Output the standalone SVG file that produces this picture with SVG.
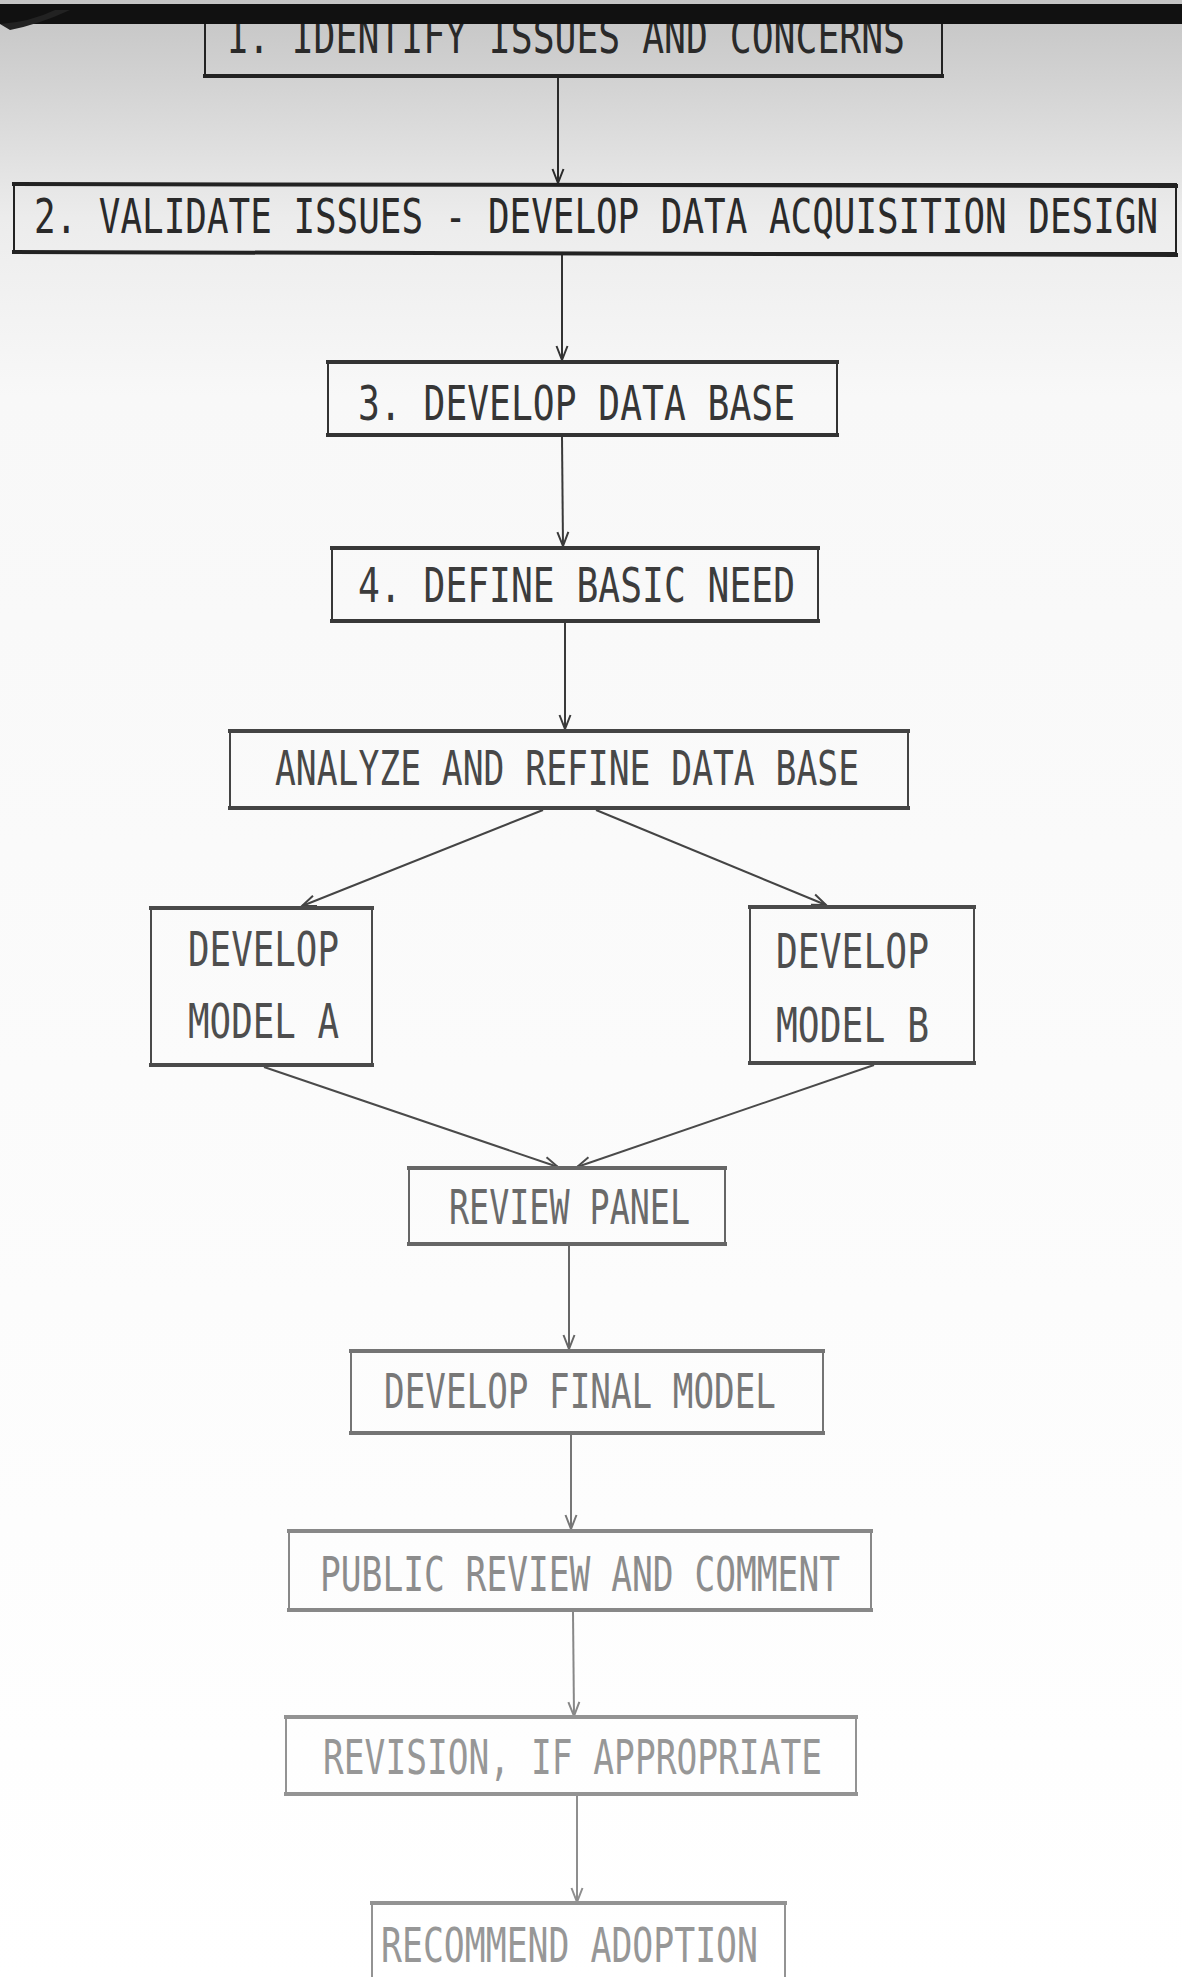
<svg xmlns="http://www.w3.org/2000/svg" width="1182" height="1977" viewBox="0 0 1182 1977">
  <defs>
    <linearGradient id="paper" x1="0" y1="0" x2="0" y2="1">
      <stop offset="0" stop-color="#c4c4c4"/>
      <stop offset="0.04" stop-color="#d2d2d2"/>
      <stop offset="0.11" stop-color="#ececec"/>
      <stop offset="0.2" stop-color="#f8f8f8"/>
      <stop offset="1" stop-color="#ffffff"/>
    </linearGradient>
    <marker id="head" viewBox="-16 -8 18 16" refX="0" refY="0" markerWidth="18" markerHeight="16" markerUnits="userSpaceOnUse" orient="auto">
      <path d="M -14 -5.5 L 0 0 L -14 5.5" fill="none" stroke="context-stroke" stroke-width="2"/>
    </marker>
  </defs>
  <style>
    .box { fill: none; stroke-width: 2; }
    .edge { stroke-width: 4; }
    .lbl { font-family: "DejaVu Sans Mono", "Liberation Mono", monospace; font-size: 48px; }
    .wire { fill: none; stroke-width: 2; marker-end: url(#head); }
  </style>

  <!-- paper -->
  <rect x="0" y="0" width="1182" height="1977" fill="url(#paper)"/>

  <!-- connectors -->
  <g id="connectors">
    <line class="wire" stroke="#2a2a2a" x1="558" y1="77" x2="558" y2="183"/>
    <line class="wire" stroke="#333" x1="562" y1="255" x2="562" y2="360"/>
    <line class="wire" stroke="#3a3a3a" x1="562" y1="437" x2="563" y2="546"/>
    <line class="wire" stroke="#3a3a3a" x1="565" y1="623" x2="565" y2="729"/>
    <line class="wire" stroke="#444" x1="543" y1="810" x2="302" y2="906"/>
    <line class="wire" stroke="#444" x1="596" y1="810" x2="826" y2="905"/>
    <line class="wire" stroke="#4a4a4a" x1="264" y1="1067" x2="558" y2="1167"/>
    <line class="wire" stroke="#4a4a4a" x1="874" y1="1065" x2="577" y2="1167"/>
    <line class="wire" stroke="#666" x1="569" y1="1246" x2="569" y2="1349"/>
    <line class="wire" stroke="#777" x1="571" y1="1435" x2="571" y2="1529"/>
    <line class="wire" stroke="#888" x1="573" y1="1612" x2="574" y2="1716"/>
    <line class="wire" stroke="#8e8e8e" x1="577" y1="1796" x2="577" y2="1902"/>
  </g>

  <!-- 1. identify issues -->
  <g id="n1">
    <rect class="box" stroke="#222" x="205" y="8" width="737" height="68"/>
    <line class="edge" stroke="#222" x1="203" y1="76" x2="944" y2="76"/>
    <text class="lbl" fill="#2a2a2a" x="226" y="53" textLength="679" lengthAdjust="spacingAndGlyphs">1.  IDENTIFY ISSUES AND CONCERNS</text>
  </g>

  <!-- dark edge across the top of the sheet -->
  <g id="topband">
    <rect x="0" y="4" width="1182" height="20" fill="#111"/>
    <path d="M 0 24 Q 30 22 55 10 L 70 10 Q 40 24 10 30 Z" fill="#222"/>
  </g>

  <!-- 2. validate issues -->
  <g id="n2">
    <rect class="box" stroke="#222" x="14" y="184" width="1162" height="69"/>
    <line class="edge" stroke="#222" x1="12" y1="184" x2="1178" y2="186"/>
    <line class="edge" stroke="#222" x1="12" y1="252" x2="1178" y2="255"/>
    <text class="lbl" fill="#2a2a2a" x="34" y="233" font-size="46" textLength="1124" lengthAdjust="spacingAndGlyphs">2.  VALIDATE ISSUES - DEVELOP DATA ACQUISITION DESIGN</text>
  </g>

  <!-- 3. develop data base -->
  <g id="n3">
    <rect class="box" stroke="#333" x="328" y="362" width="509" height="73"/>
    <line class="edge" stroke="#333" x1="326" y1="362" x2="839" y2="362"/>
    <line class="edge" stroke="#333" x1="326" y1="435" x2="839" y2="435"/>
    <text class="lbl" fill="#363636" x="358" y="420" textLength="437" lengthAdjust="spacingAndGlyphs">3.  DEVELOP DATA BASE</text>
  </g>

  <!-- 4. define basic need -->
  <g id="n4">
    <rect class="box" stroke="#383838" x="332" y="548" width="486" height="73"/>
    <line class="edge" stroke="#383838" x1="330" y1="548" x2="820" y2="548"/>
    <line class="edge" stroke="#383838" x1="330" y1="621" x2="820" y2="621"/>
    <text class="lbl" fill="#3c3c3c" x="358" y="602" textLength="437" lengthAdjust="spacingAndGlyphs">4.  DEFINE BASIC NEED</text>
  </g>

  <!-- analyze and refine -->
  <g id="n5">
    <rect class="box" stroke="#444" x="230" y="731" width="678" height="77"/>
    <line class="edge" stroke="#444" x1="228" y1="731" x2="910" y2="731"/>
    <line class="edge" stroke="#444" x1="228" y1="808" x2="910" y2="808"/>
    <text class="lbl" fill="#484848" x="275" y="785" textLength="584" lengthAdjust="spacingAndGlyphs">ANALYZE AND REFINE DATA BASE</text>
  </g>

  <!-- model A -->
  <g id="modelA">
    <rect class="box" stroke="#4a4a4a" x="151" y="908" width="221" height="157"/>
    <line class="edge" stroke="#4a4a4a" x1="149" y1="908" x2="374" y2="908"/>
    <line class="edge" stroke="#4a4a4a" x1="149" y1="1065" x2="374" y2="1065"/>
    <text class="lbl" fill="#4e4e4e" x="188" y="966" textLength="151" lengthAdjust="spacingAndGlyphs">DEVELOP</text>
    <text class="lbl" fill="#4e4e4e" x="188" y="1038" textLength="151" lengthAdjust="spacingAndGlyphs">MODEL A</text>
  </g>

  <!-- model B -->
  <g id="modelB">
    <rect class="box" stroke="#4a4a4a" x="750" y="907" width="224" height="156"/>
    <line class="edge" stroke="#4a4a4a" x1="748" y1="907" x2="976" y2="907"/>
    <line class="edge" stroke="#4a4a4a" x1="748" y1="1063" x2="976" y2="1063"/>
    <text class="lbl" fill="#4e4e4e" x="776" y="968" textLength="153" lengthAdjust="spacingAndGlyphs">DEVELOP</text>
    <text class="lbl" fill="#4e4e4e" x="776" y="1042" textLength="153" lengthAdjust="spacingAndGlyphs">MODEL B</text>
  </g>

  <!-- review panel -->
  <g id="review">
    <rect class="box" stroke="#666" x="409" y="1168" width="316" height="76"/>
    <line class="edge" stroke="#666" x1="407" y1="1168" x2="727" y2="1168"/>
    <line class="edge" stroke="#666" x1="407" y1="1244" x2="727" y2="1244"/>
    <text class="lbl" fill="#6a6a6a" x="449" y="1224" textLength="241" lengthAdjust="spacingAndGlyphs">REVIEW PANEL</text>
  </g>

  <!-- final model -->
  <g id="final">
    <rect class="box" stroke="#747474" x="351" y="1351" width="472" height="82"/>
    <line class="edge" stroke="#747474" x1="349" y1="1351" x2="825" y2="1351"/>
    <line class="edge" stroke="#747474" x1="349" y1="1433" x2="825" y2="1433"/>
    <text class="lbl" fill="#787878" x="384" y="1408" textLength="392" lengthAdjust="spacingAndGlyphs">DEVELOP FINAL MODEL</text>
  </g>

  <!-- public review -->
  <g id="public">
    <rect class="box" stroke="#888" x="289" y="1531" width="582" height="79"/>
    <line class="edge" stroke="#888" x1="287" y1="1531" x2="873" y2="1531"/>
    <line class="edge" stroke="#888" x1="287" y1="1610" x2="873" y2="1610"/>
    <text class="lbl" fill="#8c8c8c" x="320" y="1591" textLength="520" lengthAdjust="spacingAndGlyphs">PUBLIC REVIEW AND COMMENT</text>
  </g>

  <!-- revision -->
  <g id="revision">
    <rect class="box" stroke="#939393" x="286" y="1717" width="570" height="77"/>
    <line class="edge" stroke="#939393" x1="284" y1="1717" x2="858" y2="1717"/>
    <line class="edge" stroke="#939393" x1="284" y1="1794" x2="858" y2="1794"/>
    <text class="lbl" fill="#979797" x="323" y="1774" textLength="499" lengthAdjust="spacingAndGlyphs">REVISION, IF APPROPRIATE</text>
  </g>

  <!-- recommend adoption -->
  <g id="recommend">
    <rect class="box" stroke="#939393" x="372" y="1903" width="413" height="90"/>
    <line class="edge" stroke="#939393" x1="370" y1="1903" x2="787" y2="1903"/>
    <text class="lbl" fill="#979797" x="381" y="1962" textLength="377" lengthAdjust="spacingAndGlyphs">RECOMMEND ADOPTION</text>
  </g>
</svg>
